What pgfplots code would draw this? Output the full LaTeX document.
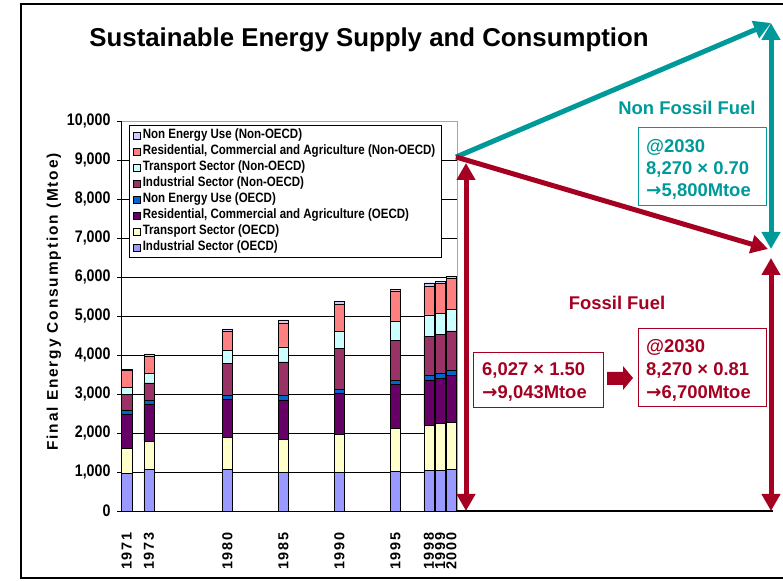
\documentclass[border=0pt]{standalone}
\usepackage{fontspec}
\setmainfont{Liberation Sans}
\newfontfamily\cond{Liberation Sans}[FakeStretch=0.85]
\newfontfamily\spaced{Liberation Sans}[LetterSpace=12]
\newfontfamily\djv{DejaVu Sans}
\usepackage{pgfplots}
\pgfplotsset{compat=1.18}
\usetikzlibrary{arrows.meta}
\definecolor{indO}{HTML}{9999FF}
\definecolor{trO}{HTML}{FFFFCC}
\definecolor{resO}{HTML}{660066}
\definecolor{neO}{HTML}{0066CC}
\definecolor{indN}{HTML}{993366}
\definecolor{trN}{HTML}{CCFFFF}
\definecolor{resN}{HTML}{FF8080}
\definecolor{neN}{HTML}{CCCCFF}
\definecolor{teal2}{HTML}{009999}
\definecolor{wine}{HTML}{A50021}
\newcommand{\arr}{{\djv\bfseries →}}
\begin{document}
\begin{tikzpicture}
\useasboundingbox (0,0) rectangle (783bp,581bp);
\begin{axis}[
  at={(121bp,70bp)}, anchor=south west,
  scale only axis, width=336bp, height=390bp,
  xmin=1970.5, xmax=2000.5, ymin=0, ymax=10000,
  ybar stacked, bar width=10.4bp,
  clip=false,
  axis line style={draw=gray!70, line width=0.6pt},
  ymajorgrids, major grid style={black, line width=0.6pt},
  ytick={0,1000,...,10000},
  scaled y ticks=false,
  /pgf/number format/assume math mode=true,
  /pgf/number format/1000 sep={,},
  yticklabel style={font=\cond\bfseries\fontsize{16.8}{16.8}\selectfont, xshift=-3bp},
  xtick={1971,1973,1980,1985,1990,1995,1998,1999,2000},
  xticklabels={1971,1973,1980,1985,1990,1995,1998,1999,2000},
  xticklabel style={rotate=90, anchor=east, font=\spaced\bfseries\fontsize{14.5}{14.5}\selectfont},
  xticklabel shift=18bp,
  minor xtick={1970.5,1971.5,...,2000.5},
  xtick style={draw=none},
  minor x tick style={black, line width=0.6pt},
  minor tick length=5bp,
  major tick length=4bp,
  ytick style={black, line width=0.6pt},
  xtick align=inside, ytick align=outside,
  xtick pos=bottom, ytick pos=left,
  ylabel={Final Energy Consumption (Mtoe)},
  ylabel style={at={(axis description cs:-0.2,0.536)}, anchor=center, font=\spaced\bfseries\fontsize{15.5}{15.5}\selectfont},
  reverse legend,
  legend image code/.code={\draw[#1, draw=black, line width=0.5pt] (0bp,-3.5bp) rectangle (7bp,3.5bp);},
  legend cell align=left,
  legend style={at={(axis description cs:0.0238,0.9897)}, anchor=north west,
    draw=black, line width=0.6pt, fill=white, inner xsep=4bp, inner ysep=2bp,
    font=\cond\bfseries\fontsize{13.6}{14}\selectfont,
    nodes={text height=10bp, text depth=3bp, inner ysep=1.5bp, inner xsep=2bp}},
]
\addplot[fill=indO, draw=black, line width=0.4pt] coordinates {(1971,964) (1973,1067) (1980,1067) (1985,990) (1990,990) (1995,1015) (1998,1041) (1999,1041) (2000,1067)};
\addlegendentry{Industrial Sector (OECD)}
\addplot[fill=trO, draw=black, line width=0.4pt] coordinates {(1971,640) (1973,725) (1980,819) (1985,844) (1990,981) (1995,1101) (1998,1152) (1999,1203) (2000,1211)};
\addlegendentry{Transport Sector (OECD)}
\addplot[fill=resO, draw=black, line width=0.4pt] coordinates {(1971,879) (1973,947) (1980,972) (1985,1007) (1990,1041) (1995,1126) (1998,1160) (1999,1160) (2000,1203)};
\addlegendentry{Residential, Commercial and Agriculture (OECD)}
\addplot[fill=neO, draw=black, line width=0.4pt] coordinates {(1971,102) (1973,102) (1980,103) (1985,120) (1990,102) (1995,111) (1998,120) (1999,137) (2000,120)};
\addlegendentry{Non Energy Use (OECD)}
\addplot[fill=indN, draw=black, line width=0.4pt] coordinates {(1971,410) (1973,444) (1980,819) (1985,862) (1990,1050) (1995,1024) (1998,1007) (1999,981) (2000,1015)};
\addlegendentry{Industrial Sector (Non-OECD)}
\addplot[fill=trN, draw=black, line width=0.4pt] coordinates {(1971,171) (1973,239) (1980,341) (1985,383) (1990,435) (1995,478) (1998,546) (1999,546) (2000,546)};
\addlegendentry{Transport Sector (Non-OECD)}
\addplot[fill=resN, draw=black, line width=0.4pt] coordinates {(1971,443) (1973,444) (1980,487) (1985,615) (1990,691) (1995,793) (1998,750) (1999,777) (2000,802)};
\addlegendentry{Residential, Commercial and Agriculture (Non-OECD)}
\addplot[fill=neN, draw=black, line width=0.4pt] coordinates {(1971,31) (1973,59) (1980,59) (1985,77) (1990,94) (1995,30) (1998,77) (1999,51) (2000,50)};
\addlegendentry{Non Energy Use (Non-OECD)}
\draw[black, line width=0.8pt] (rel axis cs:0,1) -- (rel axis cs:0,0) -- (rel axis cs:1,0);
\end{axis}
\begin{scope}[shift={(0bp,581bp)}, x=1bp, y=-1bp]
  % frame
  \draw[black, line width=2bp] (783,4) -- (21,4) -- (21,578) -- (783,578);
  % title
  \node[anchor=base, font=\bfseries\fontsize{25.9}{25.9}\selectfont, inner sep=0] at (369,47) {Sustainable Energy Supply and Consumption};
  % bottom line
  \draw[black, line width=1.6bp] (457,511) -- (773,511);
  % arrows
  \draw[teal2, line width=5bp, -{Triangle[width=18bp,length=17bp]}] (456,157) -- (771,23);
  \draw[teal2, line width=5bp, {Triangle[width=18bp,length=17bp]}-{Triangle[width=18bp,length=17bp]}] (771,23) -- (771,249);
  \draw[wine, line width=5bp, -{Triangle[width=18bp,length=17bp]}] (456,157) -- (768,249);
  \draw[wine, line width=5bp, {Triangle[width=18bp,length=17bp]}-{Triangle[width=18bp,length=17bp]}] (771,258) -- (771,511);
  \draw[wine, line width=5bp, {Triangle[width=18bp,length=17bp]}-{Triangle[width=18bp,length=17bp]}] (466,163) -- (466,511);
  % labels
  \node[text=teal2, font=\bfseries\fontsize{18.5}{18.5}\selectfont, inner sep=0] at (687,108) {Non Fossil Fuel};
  \node[text=wine, font=\bfseries\fontsize{18.5}{18.5}\selectfont, inner sep=0] at (617,303) {Fossil Fuel};
  % teal box
  \draw[teal2, line width=1bp, fill=white] (638,128) rectangle (766,206);
  \begin{scope}[every node/.style={anchor=base west, inner sep=0, font=\bfseries\fontsize{18.5}{18.5}\selectfont}]
    \node[text=teal2] at (646,153) {@2030};
    \node[text=teal2] at (646,175) {8,270 × 0.70};
    \node[text=teal2] at (646,197) {\arr5,800Mtoe};
  \end{scope}
  % red boxes
  \draw[wine, line width=1bp, fill=white] (473,353) rectangle (603,408);
  \draw[wine, line width=1bp, fill=white] (638,329) rectangle (766,407);
  \begin{scope}[every node/.style={anchor=base west, inner sep=0, font=\bfseries\fontsize{18.5}{18.5}\selectfont}]
    \node[text=wine] at (482,376) {6,027 × 1.50};
    \node[text=wine] at (482,399) {\arr9,043Mtoe};
    \node[text=wine] at (646,353) {@2030};
    \node[text=wine] at (646,376) {8,270 × 0.81};
    \node[text=wine] at (646,399) {\arr6,700Mtoe};
  \end{scope}
  % block arrow
  \fill[wine] (607,372) -- (623,372) -- (623,366) -- (633,378) -- (623,390) -- (623,385) -- (607,385) -- cycle;
\end{scope}
\end{tikzpicture}
\end{document}
